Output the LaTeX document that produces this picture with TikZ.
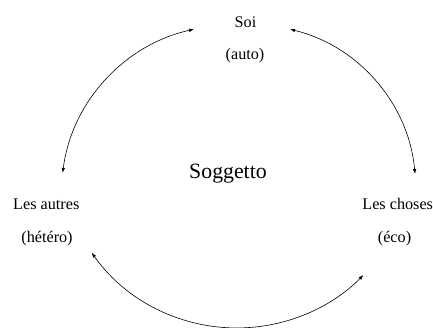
\documentclass[tikz,border=0pt]{standalone}
\usepackage{fontspec}
\setmainfont{Liberation Serif}
\usetikzlibrary{arrows.meta}
\begin{document}
\begin{tikzpicture}[x=1pt,y=1pt,
  lbl/.style={inner sep=0pt,anchor=base,font=\fontsize{16.2}{19}\selectfont},
  big/.style={inner sep=0pt,anchor=base,font=\fontsize{21.8}{26}\selectfont},
  arr/.style={line width=0.6pt,{Latex[length=5pt,width=3.6pt]}-{Latex[length=5pt,width=3.6pt]}}]
\useasboundingbox (0,0) rectangle (433,327);
\node[lbl] (soi) at (245.5,299.7) {Soi};
\node[lbl] (auto) at (245,267.5) {(auto)};
\node[lbl] (autres) at (46.3,117.7) {Les autres};
\node[lbl] (hetero) at (47,84.3) {(hétéro)};
\node[lbl] (choses) at (397.7,117.7) {Les choses};
\node[lbl] (eco) at (394.5,84.3) {(éco)};
\node[big] (sogg) at (228,148.7) {Soggetto};
\coordinate (tlA) at (194,297.7);
\coordinate (trA) at (290,297.7);
\coordinate (bA) at (91.7,274.3-200);
\draw[arr] (tlA) arc[start angle=102.4, end angle=172.7, radius=169];
\draw[arr] (trA) arc[start angle=76.5, end angle=5.2, radius=164];
\draw[arr] (bA) arc[start angle=215.2, end angle=315.4, radius=177.7];
\end{tikzpicture}
\end{document}
